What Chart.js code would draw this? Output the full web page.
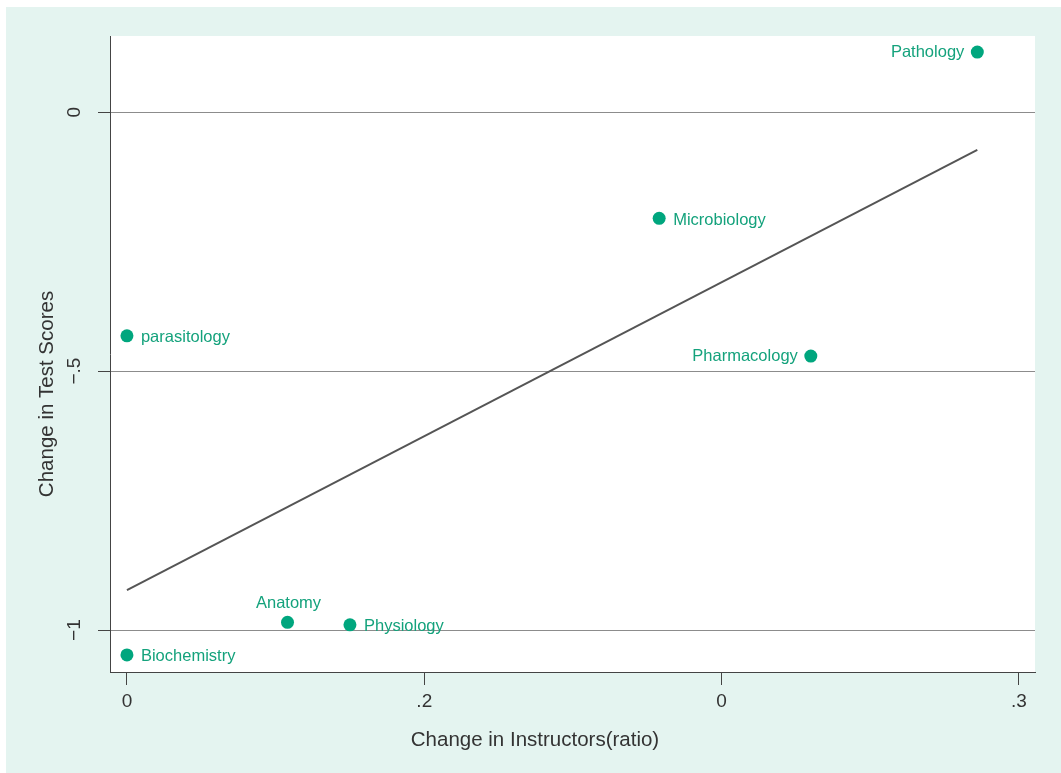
<!DOCTYPE html>
<html>
<head>
<meta charset="utf-8">
<script src="https://cdn.jsdelivr.net/npm/chart.js@4.4.1/dist/chart.umd.min.js"></script>
<style>
  html, body { margin: 0; padding: 0; background: #fff; }
  #wrap { width: 1061px; height: 773px; }
</style>
</head>
<body>
<div id="wrap"><canvas id="grafico" width="1061" height="773"></canvas></div>
<script>
// Departamentos e variações
const departamentos = ['Pathology', 'Microbiology', 'parasitology', 'Pharmacology', 'Anatomy', 'Physiology', 'Biochemistry'];
const varInstrutores = [0.286, 0.179, 0, 0.230, 0.054, 0.075, 0];
const varNotas = [0.116, -0.205, -0.432, -0.471, -0.985, -0.990, -1.048];

// Reta ajustada (extremos)
const retaX = [0, 0.286];
const retaY = [-0.923, -0.073];

// Marcas dos eixos
const xTicks = [0, 0.1, 0.2, 0.3];
const xTickLabels = ['0', '.2', '0', '.3'];
const yTicks = [-1, -0.5, 0];
const yTickLabels = ['\u22121', '\u2212.5', '0'];

const FONTE = "'Liberation Sans', Arial, sans-serif";
const VERDE = '#00a67e';
const CINZA = '#333';

// onde fica o rótulo de cada ponto
const LADO = {
  Pathology: 'left', Microbiology: 'right', parasitology: 'right',
  Pharmacology: 'left', Anatomy: 'top', Physiology: 'right', Biochemistry: 'right',
};

const fundo = {
  id: 'fundo',
  beforeDraw(chart) {
    const { ctx, chartArea: a } = chart;
    ctx.save();
    ctx.fillStyle = '#fff';
    ctx.fillRect(0, 0, chart.width, chart.height);
    ctx.fillStyle = '#e4f4f0';
    ctx.fillRect(6, 7, chart.width - 6, chart.height - 7);
    ctx.fillStyle = '#fff';
    ctx.fillRect(a.left, a.top, a.right - a.left, a.bottom - a.top);
    ctx.restore();
  },
};

const rotulos = {
  id: 'rotulos',
  afterDatasetsDraw(chart) {
    const { ctx } = chart;
    const meta = chart.getDatasetMeta(0);
    ctx.save();
    ctx.font = `16.5px ${FONTE}`;
    ctx.fillStyle = '#14a27c';
    ctx.textBaseline = 'middle';
    meta.data.forEach((p, i) => {
      const nome = departamentos[i];
      const lado = LADO[nome];
      if (lado === 'left') {
        ctx.textAlign = 'right';
        ctx.fillText(nome, p.x - 13, p.y);
      } else if (lado === 'top') {
        ctx.textAlign = 'center';
        ctx.fillText(nome, p.x + 1, p.y - 19);
      } else {
        ctx.textAlign = 'left';
        ctx.fillText(nome, p.x + 14, p.y + 2);
      }
    });
    ctx.restore();
  },
};

const titulos = {
  id: 'titulos',
  afterDraw(chart) {
    const { ctx } = chart;
    ctx.save();
    ctx.font = `20.5px ${FONTE}`;
    ctx.fillStyle = CINZA;
    ctx.textAlign = 'center';
    ctx.textBaseline = 'middle';
    ctx.fillText('Change in Instructors(ratio)', 535, 740);
    ctx.translate(47, 394);
    ctx.rotate(-Math.PI / 2);
    ctx.fillText('Change in Test Scores', 0, 0);
    ctx.restore();
  },
};

new Chart(document.getElementById('grafico'), {
  type: 'scatter',
  data: {
    datasets: [
      {
        data: departamentos.map((d, i) => ({ x: varInstrutores[i], y: varNotas[i] })),
        backgroundColor: VERDE,
        borderWidth: 0,
        pointRadius: 6.5,
      },
      {
        data: retaX.map((x, i) => ({ x, y: retaY[i] })),
        showLine: true,
        borderColor: '#555',
        borderWidth: 2,
        pointRadius: 0,
      },
    ],
  },
  options: {
    responsive: false,
    animation: false,
    devicePixelRatio: 1,
    layout: { padding: { left: 0, top: 36, right: 26, bottom: 0 } },
    plugins: { legend: { display: false }, tooltip: { enabled: false } },
    scales: {
      x: {
        type: 'linear',
        min: -0.0057,
        max: 0.3054,
        afterBuildTicks: s => { s.ticks = xTicks.map(v => ({ value: v })); },
        afterFit: s => { s.height = 101; },
        grid: { drawOnChartArea: false, tickLength: 13, tickColor: '#444' },
        border: { color: '#444', width: 1 },
        ticks: {
          padding: 5,
          color: CINZA,
          font: { family: FONTE, size: 19 },
          callback: (v, i) => xTickLabels[i],
        },
      },
      y: {
        type: 'linear',
        min: -1.081,
        max: 0.147,
        afterBuildTicks: s => { s.ticks = yTicks.map(v => ({ value: v })); },
        afterFit: s => { s.width = 110; },
        grid: { color: '#8c8c8c', tickLength: 12, tickColor: '#444' },
        border: { color: '#444', width: 1 },
        ticks: {
          padding: 10,
          minRotation: 90,
          maxRotation: 90,
          crossAlign: 'center',
          color: CINZA,
          font: { family: FONTE, size: 19 },
          callback: (v, i) => yTickLabels[i],
        },
      },
    },
  },
  plugins: [fundo, rotulos, titulos],
});
</script>
</body>
</html>
